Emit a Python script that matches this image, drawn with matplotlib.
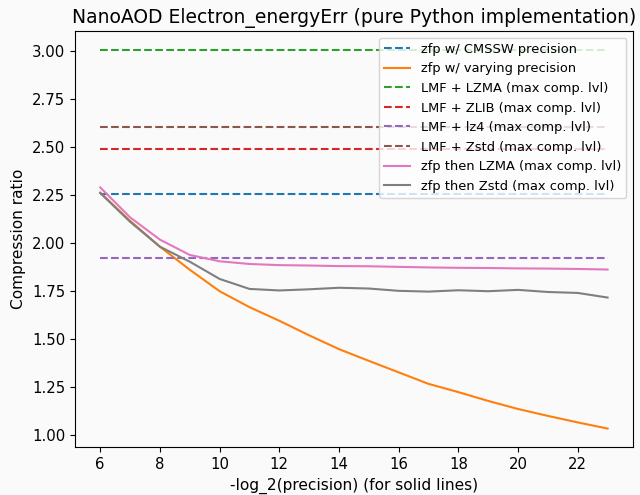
import matplotlib
matplotlib.use('Agg')
import matplotlib.pyplot as plt

# precision values (x axis)
precisions = list(range(6, 24))

# constant compression ratios (dashed references)
cmssw_ratio = 2.257
lzma_ratio = 3.005
zlib_ratio = 2.492
lz4_ratio = 1.920
zstd_ratio = 2.604

# zfp with varying precision
zfp_varying = [2.262, 2.115, 1.980, 1.860, 1.748, 1.665, 1.594, 1.518, 1.446,
               1.385, 1.325, 1.265, 1.222, 1.176, 1.134, 1.098, 1.064, 1.032]
# zfp then LZMA
zfp_lzma = [2.289, 2.133, 2.017, 1.937, 1.904, 1.890, 1.884, 1.882, 1.879,
            1.878, 1.875, 1.872, 1.870, 1.869, 1.867, 1.866, 1.864, 1.861]
# zfp then Zstd
zfp_zstd = [2.260, 2.110, 1.980, 1.902, 1.812, 1.760, 1.752, 1.758, 1.766,
            1.762, 1.750, 1.746, 1.753, 1.748, 1.755, 1.744, 1.739, 1.715]

bg = '#fafafa'
fig, ax = plt.subplots(figsize=(6.4, 4.95), dpi=100, facecolor=bg)
ax.set_facecolor(bg)
fig.subplots_adjust(left=0.117, right=0.989, top=0.937, bottom=0.096)

n = len(precisions)
ax.plot(precisions, [cmssw_ratio] * n, '--', color='C0', label='zfp w/ CMSSW precision')
ax.plot(precisions, zfp_varying, '-', color='C1', label='zfp w/ varying precision')
ax.plot(precisions, [lzma_ratio] * n, '--', color='C2', label='LMF + LZMA (max comp. lvl)')
ax.plot(precisions, [zlib_ratio] * n, '--', color='C3', label='LMF + ZLIB (max comp. lvl)')
ax.plot(precisions, [lz4_ratio] * n, '--', color='C4', label='LMF + lz4 (max comp. lvl)')
ax.plot(precisions, [zstd_ratio] * n, '--', color='C5', label='LMF + Zstd (max comp. lvl)')
ax.plot(precisions, zfp_lzma, '-', color='C6', label='zfp then LZMA (max comp. lvl)')
ax.plot(precisions, zfp_zstd, '-', color='C7', label='zfp then Zstd (max comp. lvl)')

ax.set_xticks(range(6, 24, 2))
ax.tick_params(labelsize=10.7)
ax.set_title('NanoAOD Electron_energyErr (pure Python implementation)', fontsize=13.5)
ax.set_xlabel('-log_2(precision) (for solid lines)', fontsize=11.1)
ax.set_ylabel('Compression ratio', fontsize=11.1)
ax.legend(loc='upper right', fontsize=9.4)

fig.savefig('out.png', dpi=100, facecolor=bg)
